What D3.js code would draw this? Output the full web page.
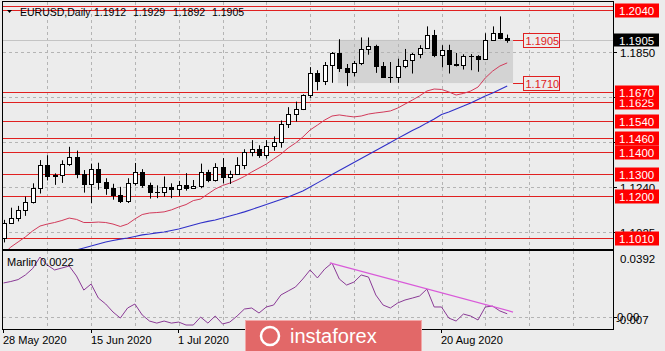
<!DOCTYPE html>
<html><head><meta charset="utf-8">
<script src="https://cdn.jsdelivr.net/npm/d3@7"></script>
<style>
html,body{margin:0;padding:0;background:#ececec;}
svg{display:block;font-family:"Liberation Sans",Arial,sans-serif;}
</style></head><body>
<svg id="c" width="665" height="351"></svg>
<script>
// ---------- DATA ----------
const dates = ["28 May","29 May","1 Jun","2 Jun","3 Jun","4 Jun","5 Jun","8 Jun","9 Jun","10 Jun",
"11 Jun","12 Jun","15 Jun","16 Jun","17 Jun","18 Jun","19 Jun","22 Jun","23 Jun","24 Jun",
"25 Jun","26 Jun","29 Jun","30 Jun","1 Jul","2 Jul","3 Jul","6 Jul","7 Jul","8 Jul",
"9 Jul","10 Jul","13 Jul","14 Jul","15 Jul","16 Jul","17 Jul","20 Jul","21 Jul","22 Jul",
"23 Jul","24 Jul","27 Jul","28 Jul","29 Jul","30 Jul","31 Jul","3 Aug","4 Aug","5 Aug",
"6 Aug","7 Aug","10 Aug","11 Aug","12 Aug","13 Aug","14 Aug","17 Aug","18 Aug","19 Aug",
"20 Aug","21 Aug","24 Aug","25 Aug","26 Aug","27 Aug","28 Aug","31 Aug","1 Sep","2 Sep"];
const open = [1.1008,1.1077,1.1100,1.1135,1.1172,1.1236,1.1339,1.1290,1.1294,1.1344,
1.1375,1.1300,1.1255,1.1320,1.1262,1.1235,1.1203,1.1178,1.1258,1.1308,
1.1251,1.1220,1.1219,1.1240,1.1231,1.1249,1.1238,1.1244,1.1309,1.1274,
1.1330,1.1287,1.1300,1.1340,1.1400,1.1412,1.1383,1.1426,1.1442,1.1525,
1.1568,1.1595,1.1655,1.1754,1.1717,1.1791,1.1846,1.1778,1.1761,1.1799,
1.1863,1.1876,1.1786,1.1737,1.1737,1.1785,1.1814,1.1842,1.1870,1.1929,
1.1836,1.1859,1.1795,1.1792,1.1834,1.1831,1.1818,1.1905,1.1938,1.1912];
const high = [1.1092,1.1147,1.1155,1.1197,1.1257,1.1362,1.1384,1.1302,1.1361,1.1422,
1.1405,1.1317,1.1346,1.1350,1.1280,1.1255,1.1241,1.1280,1.1349,1.1321,
1.1260,1.1248,1.1288,1.1257,1.1268,1.1303,1.1272,1.1346,1.1318,1.1348,
1.1371,1.1314,1.1375,1.1411,1.1452,1.1429,1.1452,1.1469,1.1541,1.1601,
1.1626,1.1659,1.1782,1.1768,1.1805,1.1850,1.1908,1.1796,1.1810,1.1916,
1.1916,1.1883,1.1805,1.1805,1.1820,1.1864,1.1846,1.1881,1.1966,1.1950,
1.1881,1.1883,1.1846,1.1840,1.1841,1.1836,1.1935,1.1966,1.2011,1.1929];
const low = [1.0990,1.1075,1.1085,1.1110,1.1166,1.1211,1.1270,1.1250,1.1259,1.1336,
1.1280,1.1215,1.1167,1.1228,1.1205,1.1183,1.1168,1.1168,1.1247,1.1237,
1.1188,1.1190,1.1197,1.1190,1.1200,1.1224,1.1232,1.1235,1.1262,1.1265,
1.1257,1.1254,1.1300,1.1321,1.1379,1.1372,1.1369,1.1404,1.1418,1.1507,
1.1536,1.1588,1.1643,1.1677,1.1701,1.1711,1.1760,1.1696,1.1740,1.1791,
1.1838,1.1756,1.1736,1.1711,1.1711,1.1777,1.1753,1.1822,1.1866,1.1827,
1.1781,1.1753,1.1785,1.1771,1.1768,1.1761,1.1815,1.1903,1.1908,1.1892];
const close = [1.1077,1.1100,1.1135,1.1172,1.1236,1.1339,1.1290,1.1294,1.1344,1.1375,
1.1300,1.1255,1.1320,1.1262,1.1235,1.1203,1.1178,1.1258,1.1308,1.1251,
1.1220,1.1219,1.1240,1.1231,1.1249,1.1238,1.1244,1.1309,1.1274,1.1330,
1.1287,1.1300,1.1340,1.1400,1.1412,1.1383,1.1426,1.1442,1.1525,1.1568,
1.1595,1.1655,1.1754,1.1717,1.1791,1.1846,1.1778,1.1761,1.1799,1.1863,
1.1876,1.1786,1.1737,1.1737,1.1785,1.1814,1.1842,1.1870,1.1929,1.1836,
1.1859,1.1795,1.1792,1.1834,1.1831,1.1818,1.1905,1.1938,1.1913,1.1905];
// red moving average
const maFast = [1.0938,1.0969,1.0992,1.1015,1.1042,1.1064,1.1073,1.1080,1.1089,1.1100,
1.1094,1.1080,1.1080,1.1082,1.1080,1.1073,1.1062,1.1073,1.1096,1.1116,
1.1123,1.1125,1.1128,1.1137,1.1150,1.1161,1.1179,1.1186,1.1209,1.1231,
1.1247,1.1258,1.1272,1.1288,1.1308,1.1326,1.1344,1.1367,1.1389,1.1417,
1.1439,1.1466,1.1498,1.1520,1.1543,1.1561,1.1566,1.1561,1.1557,1.1561,
1.1570,1.1575,1.1579,1.1584,1.1597,1.1615,1.1633,1.1652,1.1674,1.1683,
1.1681,1.1670,1.1656,1.1663,1.1674,1.1692,1.1733,1.1764,1.1787,1.1801];
// blue moving average
const maSlow = [null,null,null,null,null,null,null,null,null,1.0947,
1.0956,1.0965,1.0974,1.0983,1.0992,1.0999,1.1005,1.1010,1.1017,1.1024,
1.1028,1.1033,1.1037,1.1044,1.1051,1.1060,1.1069,1.1078,1.1085,1.1091,
1.1100,1.1109,1.1118,1.1128,1.1139,1.1150,1.1161,1.1173,1.1184,1.1195,
1.1209,1.1222,1.1240,1.1259,1.1277,1.1297,1.1315,1.1333,1.1351,1.1369,
1.1387,1.1405,1.1423,1.1441,1.1460,1.1478,1.1496,1.1511,1.1530,1.1548,
1.1568,1.1579,1.1593,1.1606,1.1620,1.1636,1.1652,1.1665,1.1681,1.1697];
// Marlin oscillator
const marlin = [0.0230,0.0240,0.0253,0.0284,0.0328,0.0405,0.0351,0.0318,0.0331,0.0345,
0.0277,0.0182,0.0223,0.0128,0.0088,0.0034,-0.0007,0.0061,0.0088,0.0014,
-0.0027,-0.0041,-0.0027,-0.0041,-0.0034,-0.0054,-0.0054,0.0000,-0.0041,0.0007,
-0.0047,-0.0034,0.0007,0.0054,0.0061,0.0027,0.0068,0.0081,0.0149,0.0176,
0.0203,0.0257,0.0318,0.0264,0.0324,0.0365,0.0257,0.0216,0.0236,0.0284,
0.0270,0.0149,0.0081,0.0061,0.0095,0.0115,0.0128,0.0142,0.0189,0.0068,
0.0068,-0.0007,-0.0027,0.0020,0.0007,-0.0020,0.0068,0.0074,0.0041,0.0022];
const marlinTrendIdx = [44.7, 69.8];
const marlinTrendVal = [0.0365, 0.0034];

const levels = [1.2058,1.2040,1.1670,1.1625,1.1540,1.1460,1.1400,1.1300,1.1200,1.1010];
const boxLevels = [1.1625,1.2040,1.1540,1.1460,1.1400,1.1300,1.1200,1.1010,1.1670];
const levelLabels = ["1.1625","1.2040","1.1540","1.1460","1.1400","1.1300","1.1200","1.1010","1.1670"];
const rangeTop = 1.1905, rangeBottom = 1.1710;
const rangeIdx = [45.8, 69.8];
const bid = 1.1905;
const priceTicks = [1.1850,1.1647,1.1444,1.1240,1.1037];
const priceTickLabels = ["1.1850","","","1.1240","1.1025"];   // others hidden by level boxes
const dateTickIdx = [0,12,24,36,48,60];
const dateTickLabels = ["28 May 2020","15 Jun 2020","1 Jul 2020","","","20 Aug 2020"]; // two hidden by logo
const titleTokens = ["EURUSD,Daily","1.1912","1.1929","1.1892","1.1905"];

// ---------- LAYOUT ----------
const L=3,R=613,T=2,B=249,LT=251,LB=329;
const svg=d3.select("#c");
const x=d3.scaleLinear().domain([0,69]).range([3.5,507.2]);
const y=d3.scaleLinear().domain([1.1010,1.2040]).range([238,10]);
const ym=d3.scaleLinear().domain([-0.007,0.0392]).range([327.4,259]);
const px=v=>Math.round(v)+0.5;
const BG="#ececec";

svg.append("rect").attr("width",665).attr("height",351).attr("fill",BG);
const defs=svg.append("defs");
defs.append("clipPath").attr("id","cm").append("rect").attr("x",L).attr("y",T).attr("width",R-L).attr("height",B-T);
defs.append("clipPath").attr("id","cl").append("rect").attr("x",L).attr("y",LT).attr("width",R-L).attr("height",LB-LT);

const gm=svg.append("g").attr("clip-path","url(#cm)");
const gl=svg.append("g").attr("clip-path","url(#cl)");

// range box
gm.append("rect").attr("x",x(rangeIdx[0])).attr("y",y(rangeTop))
 .attr("width",x(rangeIdx[1])-x(rangeIdx[0])).attr("height",y(rangeBottom)-y(rangeTop)).attr("fill","#d3d3d3");

// grids
const vg=d3.range(1,14).map(k=>x(6*k));
[gm,gl].forEach((g,j)=>{
  g.selectAll("line.vg").data(vg).join("line").attr("x1",d=>px(d)).attr("x2",d=>px(d))
   .attr("y1",j?LT:T).attr("y2",j?LB:B).attr("stroke","#b4b4b4").attr("stroke-dasharray","3,3");
});
gm.selectAll("line.hg").data(priceTicks).join("line").attr("x1",L).attr("x2",R)
 .attr("y1",d=>px(y(d))).attr("y2",d=>px(y(d))).attr("stroke","#b4b4b4").attr("stroke-dasharray","3,3");
gl.append("line").attr("x1",L).attr("x2",R).attr("y1",px(ym(0))).attr("y2",px(ym(0)))
 .attr("stroke","#b4b4b4").attr("stroke-dasharray","3,3");
// bid line
gm.append("line").attr("x1",L).attr("x2",R).attr("y1",px(y(bid))).attr("y2",px(y(bid))).attr("stroke","#c4c4c4");

// level lines
gm.selectAll("line.lv").data(levels).join("line").attr("x1",L).attr("x2",R)
 .attr("y1",d=>px(y(d))).attr("y2",d=>px(y(d))).attr("stroke","#e02020");

// moving averages
const idx=d3.range(70);
const lineP=d3.line().defined(d=>d.v!=null).x(d=>x(d.i)).y(d=>y(d.v));
gm.append("path").datum(idx.map(i=>({i,v:maSlow[i]}))).attr("d",lineP).attr("fill","none").attr("stroke","#3030c8").attr("stroke-width",1.1);
gm.append("path").datum(idx.map(i=>({i,v:maFast[i]}))).attr("d",lineP).attr("fill","none").attr("stroke","#d23a5a").attr("stroke-width",1);

// candles
const cg=gm.append("g");
idx.forEach(i=>{
  const cx=Math.round(x(i));
  cg.append("line").attr("x1",cx+0.5).attr("x2",cx+0.5).attr("y1",y(high[i])).attr("y2",y(low[i])).attr("stroke","#000");
  const top=Math.round(y(Math.max(open[i],close[i]))), bot=Math.round(y(Math.min(open[i],close[i])));
  const up=close[i]>=open[i];
  if(bot-top<1){
    cg.append("line").attr("x1",cx-2).attr("x2",cx+3).attr("y1",top+0.5).attr("y2",top+0.5).attr("stroke","#000");
  } else {
    cg.append("rect").attr("x",cx-1.5).attr("y",top+0.5).attr("width",4).attr("height",bot-top)
      .attr("fill",up?"#fff":"#000").attr("stroke","#000");
  }
});

// range labels
[[rangeTop,"1.1905"],[rangeBottom,"1.1710"]].forEach(([v,t])=>{
  const yy=px(y(v));
  svg.append("line").attr("x1",x(rangeIdx[1])).attr("x2",523).attr("y1",yy).attr("y2",yy).attr("stroke","#e02020");
  svg.append("rect").attr("x",523.5).attr("y",yy-7).attr("width",36).attr("height",14).attr("fill",BG).attr("stroke","#e02020");
  svg.append("text").attr("x",525.5).attr("y",yy+4).attr("font-size","11px").attr("fill","#e02020").text(t);
});

// Marlin
const lineM=d3.line().x(d=>x(d.i)).y(d=>ym(d.v));
gl.append("path").datum(idx.map(i=>({i,v:marlin[i]}))).attr("d",lineM).attr("fill","none").attr("stroke","#8a3a96").attr("stroke-width",1);
gl.append("path").datum(marlinTrendIdx.map((i,k)=>({i,v:marlinTrendVal[k]}))).attr("d",lineM)
 .attr("fill","none").attr("stroke","#d95ad9").attr("stroke-width",1.3);

// frames
svg.append("rect").attr("x",L-0.5).attr("y",T-0.5).attr("width",R-L+1).attr("height",B-T+1).attr("fill","none").attr("stroke","#000");
svg.append("rect").attr("x",L-0.5).attr("y",LT-0.5).attr("width",R-L+1).attr("height",LB-LT+1).attr("fill","none").attr("stroke","#000");

// right axis ticks & labels
const fs="11.5px";
priceTicks.forEach((v,k)=>{
  const yy=px(y(v));
  svg.append("line").attr("x1",R).attr("x2",R+4).attr("y1",yy).attr("y2",yy).attr("stroke","#000");
  if(priceTickLabels[k]) svg.append("text").attr("x",620).attr("y",yy+4).attr("font-size",fs).attr("fill","#000").text(priceTickLabels[k]);
});
boxLevels.forEach((v,k)=>{
  const yy=y(v);
  svg.append("rect").attr("x",615).attr("y",Math.round(yy)-6.5).attr("width",44).attr("height",14).attr("fill","#ff0000");
  svg.append("text").attr("x",619).attr("y",Math.round(yy)+4.5).attr("font-size",fs).attr("fill","#fff").text(levelLabels[k]);
});
{
  const yy=Math.round(y(bid));
  svg.append("rect").attr("x",614).attr("y",yy-6.5).attr("width",45).attr("height",13).attr("fill","#000");
  svg.append("text").attr("x",619).attr("y",yy+4.5).attr("font-size",fs).attr("fill","#fff").text("1.1905");
}
// marlin axis labels (0.00 and -0.007 overlap as in the source)
[[0.0392,"0.0392",620],[0,"0.00",617],[-0.0022,"-0.007",616]].forEach(([v,t,xx])=>{
  const yy=ym(v);
  svg.append("text").attr("x",xx).attr("y",yy+4).attr("font-size",fs).attr("fill","#000").text(t);
});
svg.append("line").attr("x1",R).attr("x2",R+4).attr("y1",px(ym(0))).attr("y2",px(ym(0))).attr("stroke","#000");

// date axis
dateTickIdx.forEach((i,k)=>{
  const xx=px(x(i)-0.5);
  svg.append("line").attr("x1",xx).attr("x2",xx).attr("y1",LB).attr("y2",LB+4).attr("stroke","#000");
  if(dateTickLabels[k]) svg.append("text").attr("x",xx-0.5).attr("y",344).attr("font-size","11px").attr("fill","#000").text(dateTickLabels[k]);
});

// titles
svg.append("path").attr("d","M7,10 L12,10 L9.5,13 Z").attr("fill","#000");
const tx=[20,94,133,173,212];
titleTokens.forEach((t,k)=>svg.append("text").attr("x",tx[k]).attr("y",16).attr("font-size","10.5px").attr("fill","#000").text(t));
svg.append("text").attr("x",7).attr("y",266).attr("font-size","11px").attr("fill","#000").text("Marlin 0.0022");

// instaforex logo
const lg=svg.append("g");
lg.append("rect").attr("x",245).attr("y",320).attr("width",177).attr("height",32).attr("fill","#e26868");
lg.append("rect").attr("x",245.5).attr("y",320.5).attr("width",176).attr("height",31).attr("fill","none").attr("stroke","#f2a8a8");
lg.append("circle").attr("cx",270).attr("cy",336).attr("r",9).attr("fill","none").attr("stroke","#fff").attr("stroke-width",2.5);
lg.append("text").attr("x",290).attr("y",343).attr("font-size","20px").attr("fill","#fff").text("instaforex");
</script>
</body></html>
